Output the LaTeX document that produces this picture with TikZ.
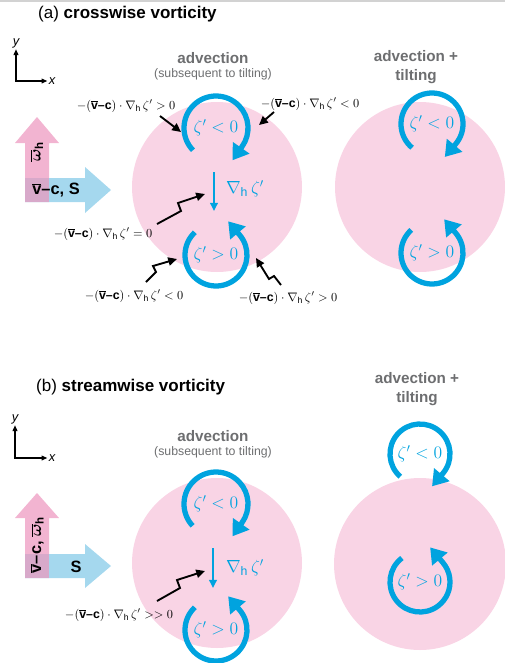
\RequirePackage{fix-cm}
\documentclass[tikz,border=0pt]{standalone}
\usepackage{fontspec}
\setmainfont{Liberation Sans}
\usetikzlibrary{arrows.meta,calc}
\definecolor{diskpink}{HTML}{F9D4E5}
\definecolor{shearpink}{HTML}{F2B4D1}
\definecolor{shearblue}{HTML}{A5D8EE}
\definecolor{overlapcol}{HTML}{D8A9CA}
\definecolor{vortexblue}{HTML}{00A3DF}
\definecolor{headgray}{HTML}{6D6E70}
\definecolor{rulegray}{HTML}{D2D2D2}

\newcommand{\vcterm}{-(\overline{\mbox{\bfseries v}}\mbox{\bfseries --c})}
\newcommand{\advterm}[1]{$\vcterm\cdot\nabla_{\mathrm{h}}\,\zeta' #1$}

\tikzset{
  ring/.style={draw=vortexblue, line width=4.5pt, -{Triangle[width=16.5pt,length=13pt]}},
  ringlabel/.style={text=vortexblue, inner sep=0pt, font=\fontsize{15}{17}\selectfont},
  gradlabel/.style={text=vortexblue, inner sep=0pt, font=\fontsize{15}{17}\selectfont},
  gradarrow/.style={draw=vortexblue, line width=1.7pt, -{Triangle[width=6.5pt,length=7pt]}},
  pointer/.style={draw=black, line width=1.6pt, line join=miter, -{Triangle[width=7pt,length=7.5pt]}},
  advlabel/.style={inner sep=0pt, font=\fontsize{10.5}{12}\selectfont},
  headline/.style={text=headgray, align=center, inner sep=0pt, font=\bfseries\fontsize{13}{16}\selectfont},
  subline/.style={text=headgray, inner sep=0pt, font=\fontsize{10.5}{12}\selectfont},
  axislabel/.style={inner sep=1pt, font=\itshape\fontsize{11}{13}\selectfont},
  axis/.style={draw=black, line width=1.3pt, {Triangle[width=4pt,length=5pt]}-{Triangle[width=4pt,length=5pt]}},
  paneltitle/.style={anchor=west, inner sep=0pt, font=\fontsize{14.5}{17}\selectfont},
  shearlabel/.style={inner sep=0pt, font=\bfseries\fontsize{14}{16}\selectfont}
}

\begin{document}
\begin{tikzpicture}[x=0.03cm, y=0.03cm]
  \useasboundingbox (0,0) rectangle (505,-663);
  \fill[rulegray] (0,0) rectangle (505,-2);

  % (a) crosswise vorticity
  \node[paneltitle] (titleA) at (38,-14) {(a) \textbf{crosswise vorticity}};
  \node[axislabel] (yA) at (16,-43) {y};
  \node[axislabel] (xA) at (52,-81) {x};
  \draw[axis] (yA.south) |- (xA.west);

  % shear arrows
  \fill[shearpink] (25,-202) -- (25,-143) -- (15,-143) -- (37,-117) -- (59,-143) -- (49,-143) -- (49,-202) -- cycle;
  \fill[shearblue] (25,-178) -- (85,-178) -- (85,-167) -- (111,-190) -- (85,-213) -- (85,-202) -- (25,-202) -- cycle;
  \fill[overlapcol] (25,-178) rectangle (49,-202);
  \node[shearlabel, rotate=90, font=\boldmath\fontsize{14}{16}\selectfont] (omegaA) at (37,-152) {$\overline{\omega}_{\mathrm{h}}$};
  \node[shearlabel] (vcA) at (56,-190) {$\overline{\mbox{v}}$--c, S};

  % disks
  \fill[diskpink] (217,-187) circle[radius=85];
  \fill[diskpink] (420,-187) circle[radius=85];
  \node[headline] (advA) at (213,-58) {advection};
  \node[subline] (subA) at (213,-74) {(subsequent to tilting)};
  \node[headline] (tiltA) at (416,-67) {advection +\\tilting};

  % advection vortices
  \node[ringlabel] (negA) at (216,-128) {$\zeta'<0$};
  \node[ringlabel] (posA) at (216,-255) {$\zeta'>0$};
  \draw[ring] ($(negA.center)+(224:32)$) arc[start angle=224, end angle=-35, radius=32] -- ++(-125:17);
  \draw[ring] ($(posA.center)+(133:31)$) arc[start angle=133, end angle=400, radius=31] -- ++(130:18);
  \node[gradlabel] (gradA) at (245,-189) {$\nabla_{\mathrm{h}}\,\zeta'$};
  \coordinate (gtopA) at (214,-172);
  \coordinate (gbotA) at (214,-211);
  \draw[gradarrow] (gtopA) -- (gbotA);

  % tendency labels
  \node[advlabel] (ulA) at (126,-106) {\advterm{>0}};
  \node[advlabel] (urA) at (310,-104) {\advterm{<0}};
  \node[advlabel] (mlA) at (103,-234) {\advterm{=0}};
  \node[advlabel] (llA) at (134,-296) {\advterm{<0}};
  \node[advlabel] (lrA) at (288,-298) {\advterm{>0}};
  \coordinate (ulS) at (160,-116);
  \coordinate (ulT) at (181,-132);
  \coordinate (urS) at (274,-112);
  \coordinate (urT) at (259,-125);
  \coordinate (mlS) at (157,-224);
  \coordinate (mlT) at (205,-194);
  \coordinate (llS) at (146,-282);
  \coordinate (llT) at (177,-259);
  \coordinate (lrS) at (281,-285);
  \coordinate (lrT) at (256,-258);
  \draw[pointer] (ulS) -- (ulT);
  \draw[pointer] (urS) -- (urT);
  \draw[pointer] (mlS) -- (181,-211) -- (178,-203) -- (mlT);
  \draw[pointer] (llS) -- (156,-272) -- (153,-266) -- (llT);
  \draw[pointer] (lrS) -- (274,-276) -- (269,-279) -- (lrT);

  % advection + tilting vortices
  \node[ringlabel] (negAT) at (432,-124) {$\zeta'<0$};
  \node[ringlabel] (posAT) at (432,-253) {$\zeta'>0$};
  \draw[ring] ($(negAT.center)+(230:31)$) arc[start angle=230, end angle=-40, radius=31] -- ++(-130:17);
  \draw[ring] ($(posAT.center)+(132:31)$) arc[start angle=132, end angle=400, radius=31] -- ++(130:18);

  % (b) streamwise vorticity
  \node[paneltitle] (titleB) at (36,-387) {(b) \textbf{streamwise vorticity}};
  \node[axislabel] (yB) at (15,-419) {y};
  \node[axislabel] (xB) at (52,-458) {x};
  \draw[axis] (yB.south) |- (xB.west);

  % shear arrows
  \fill[shearpink] (25,-578) -- (25,-518) -- (15,-518) -- (37,-493) -- (59,-518) -- (49,-518) -- (49,-578) -- cycle;
  \fill[shearblue] (25,-554) -- (85,-554) -- (85,-544) -- (111,-566) -- (85,-588) -- (85,-578) -- (25,-578) -- cycle;
  \fill[overlapcol] (25,-554) rectangle (49,-578);
  \node[shearlabel, rotate=90] (vcB) at (37,-545) {$\overline{\mbox{v}}$--c, {\boldmath$\overline{\omega}_{\mathrm{h}}$}};
  \node[shearlabel] (sB) at (76,-567) {S};

  % disks
  \fill[diskpink] (217,-563) circle[radius=85];
  \fill[diskpink] (420,-564) circle[radius=86];
  \node[headline] (advB) at (213,-436) {advection};
  \node[subline] (subB) at (213,-452) {(subsequent to tilting)};
  \node[headline] (tiltB) at (417,-389) {advection +\\tilting};

  % advection vortices
  \node[ringlabel] (negB) at (216,-504) {$\zeta'<0$};
  \node[ringlabel] (posB) at (216,-630) {$\zeta'>0$};
  \draw[ring] ($(negB.center)+(223:32)$) arc[start angle=223, end angle=-35, radius=32] -- ++(-125:17);
  \draw[ring] ($(posB.center)+(133:31)$) arc[start angle=133, end angle=400, radius=31] -- ++(130:18);
  \node[gradlabel] (gradB) at (245,-568) {$\nabla_{\mathrm{h}}\,\zeta'$};
  \coordinate (gtopB) at (213,-548);
  \coordinate (gbotB) at (213,-588);
  \draw[gradarrow] (gtopB) -- (gbotB);
  \node[advlabel] (mlB) at (119,-615) {\advterm{>>0}};
  \coordinate (mlBS) at (157,-601);
  \coordinate (mlBT) at (205,-571);
  \draw[pointer] (mlBS) -- (180,-588) -- (177,-580) -- (mlBT);

  % advection + tilting vortices
  \node[ringlabel] (negBT) at (420,-454) {$\zeta'<0$};
  \node[ringlabel] (posBT) at (420,-582) {$\zeta'>0$};
  \draw[ring] ($(negBT.center)+(229:30)$) arc[start angle=229, end angle=-40, radius=30] -- ++(-130:17);
  \draw[ring] ($(posBT.center)+(127:30)$) arc[start angle=127, end angle=400, radius=30] -- ++(130:20);
\end{tikzpicture}
\end{document}
